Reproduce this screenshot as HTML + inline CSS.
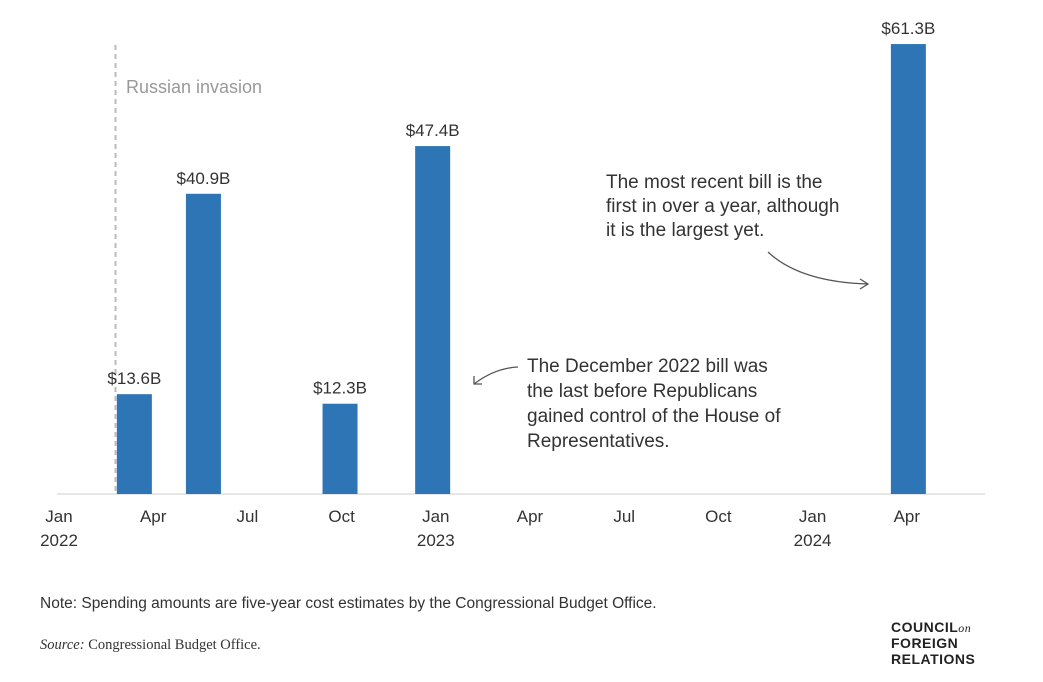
<!DOCTYPE html>
<html><head><meta charset="utf-8"><style>
html,body{margin:0;padding:0;background:#fff;}
body{width:1043px;height:677px;overflow:hidden;font-family:"Liberation Sans",sans-serif;}
</style></head><body>
<svg width="1043" height="677" viewBox="0 0 1043 677" font-family="Liberation Sans, sans-serif">
<g id="ticks"></g>
<line x1="57" y1="494" x2="985" y2="494" stroke="#ccc" stroke-width="1"/>
<line id="inv" y1="45" y2="494" stroke="#bbb" stroke-width="2" stroke-dasharray="5,4"/>
<text x="126" y="93" font-size="18" fill="#999">Russian invasion</text>
<g id="bars"></g>
<g font-size="19" fill="#333">
<text x="606" y="188">The most recent bill is the</text>
<text x="606" y="212">first in over a year, although</text>
<text x="606" y="236">it is the largest yet.</text>
</g>
<path d="M768,252 Q800,282 868,284" fill="none" stroke="#555" stroke-width="1.3"/>
<path d="M860,279 L868,284 L860,289" fill="none" stroke="#555" stroke-width="1.3"/>
<g font-size="19" fill="#333">
<text x="527" y="372">The December 2022 bill was</text>
<text x="527" y="397">the last before Republicans</text>
<text x="527" y="422">gained control of the House of</text>
<text x="527" y="447">Representatives.</text>
</g>
<path d="M518,367 Q495,368 474,384" fill="none" stroke="#555" stroke-width="1.3"/>
<path d="M474,376 L474,384 L482,384" fill="none" stroke="#555" stroke-width="1.3"/>
<text x="40" y="608" font-size="15.5" fill="#333">Note: Spending amounts are five-year cost estimates by the Congressional Budget Office.</text>
<text x="40" y="649" font-size="14.5" fill="#333" font-family="Liberation Serif, serif"><tspan font-style="italic">Source:</tspan> Congressional Budget Office.</text>
<g font-size="14" fill="#222" font-weight="bold" letter-spacing="0.5">
<text x="891" y="632">COUNCIL<tspan font-family="Liberation Serif, serif" font-style="italic" font-weight="normal" font-size="12">on</tspan></text>
<text x="891" y="648">FOREIGN</text>
<text x="891" y="664">RELATIONS</text>
</g>
</svg>
<script>
const months=[2.4,4.6,8.95,11.9,27.05];
const values=[13.6,40.9,12.3,47.4,61.3];
const valueLabels=["$13.6B","$40.9B","$12.3B","$47.4B","$61.3B"];
const tickMonths=[0,3,6,9,12,15,18,21,24,27];
const tickLabels=["Jan","Apr","Jul","Oct","Jan","Apr","Jul","Oct","Jan","Apr"];
const tickYears=["2022","","","","2023","","","","2024",""];
const invasionMonth=1.8;
const NS="http://www.w3.org/2000/svg";
const x=m=>59+m*31.4;
const y=v=>494-v*7.34;
const bars=document.getElementById('bars');
values.forEach((v,i)=>{
  const r=document.createElementNS(NS,'rect');
  r.setAttribute('x',x(months[i])-17.5);r.setAttribute('width',35);
  r.setAttribute('y',y(v));r.setAttribute('height',494-y(v));r.setAttribute('fill','#2e75b6');
  
  
  bars.appendChild(r);
  const t=document.createElementNS(NS,'text');
  t.setAttribute('x',x(months[i]));t.setAttribute('y',y(v)-10);t.setAttribute('text-anchor','middle');
  t.setAttribute('font-size','17');t.setAttribute('fill','#333');t.textContent=valueLabels[i];
  
  
  bars.appendChild(t);
});
const ticks=document.getElementById('ticks');
tickMonths.forEach((m,i)=>{
  const t=document.createElementNS(NS,'text');
  t.setAttribute('x',x(m));t.setAttribute('y',522);t.setAttribute('text-anchor','middle');
  t.setAttribute('font-size','17');t.setAttribute('fill','#333');t.textContent=tickLabels[i];
  
  
  ticks.appendChild(t);
  if(tickYears[i]){
    const u=document.createElementNS(NS,'text');
    u.setAttribute('x',x(m));u.setAttribute('y',546);u.setAttribute('text-anchor','middle');
    u.setAttribute('font-size','17');u.setAttribute('fill','#333');u.textContent=tickYears[i];
    
    
    ticks.appendChild(u);
  }
});
const inv=document.getElementById('inv');
inv.setAttribute('x1',x(invasionMonth));inv.setAttribute('x2',x(invasionMonth));
</script>
</body></html>
